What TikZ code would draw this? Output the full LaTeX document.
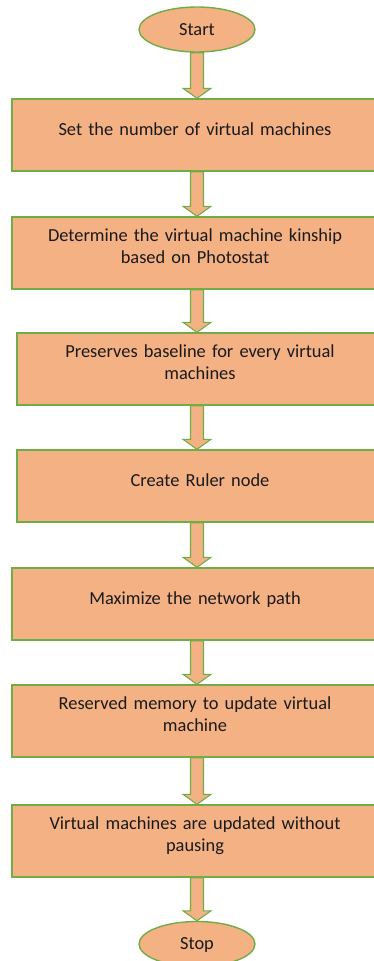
\documentclass[tikz,border=0pt]{standalone}
\usepackage{fontspec}
\setmainfont{Carlito}
\usetikzlibrary{shapes.geometric,calc}
\definecolor{boxfill}{HTML}{F4B183}
\definecolor{boxline}{HTML}{70AD47}
\definecolor{txt}{HTML}{1A1A1A}
\tikzset{
  x=1pt, y=1pt,
  stepbox/.style={rectangle, draw=boxline, fill=boxfill, line width=1.4pt,
    inner xsep=0pt, inner ysep=0pt, text width=366pt, align=center,
    font=\fontsize{18.4}{22.5}\selectfont, text=txt},
  onerow/.style={text height=36pt, text depth=36pt},
  tworow/.style={text height=24pt, text depth=48pt},
  terminal/.style={ellipse, draw=boxline, fill=boxfill, line width=1.4pt,
    minimum width=116pt, minimum height=45pt, inner sep=0pt,
    text height=13pt, text depth=2pt,
    font=\fontsize{18.4}{22.5}\selectfont, text=txt},
  flowarrow/.style={draw=boxline, fill=boxfill, line width=1.1pt, line join=miter}
}
% block arrow from the bottom of #1 to the top of #2, on the vertical axis
\newcommand\flowlink[2]{%
  \draw[flowarrow]
    ($(#1.south -| axis)+(-6.5,0)$) -- ($(#2.north -| axis)+(-6.5,10)$)
    -- ($(#2.north -| axis)+(-14,10)$) -- (#2.north -| axis)
    -- ($(#2.north -| axis)+(14,10)$) -- ($(#2.north -| axis)+(6.5,10)$)
    -- ($(#1.south -| axis)+(6.5,0)$) -- cycle;}
\begin{document}
\begin{tikzpicture}
  \useasboundingbox (0,0) rectangle (374,-961);
  \coordinate (axis) at (197,0);

  \node[terminal] (start) at (197,-29.5) {Start};
  \node[stepbox, onerow] (b1) at (195,-135) {Set the number of virtual machines};
  \node[stepbox, tworow] (b2) at (195,-253) {Determine the virtual machine kinship\\based on Photostat};
  \node[stepbox, tworow] (b3) at (200,-369) {Preserves baseline for every virtual\\machines};
  \node[stepbox, onerow] (b4) at (200,-486) {Create Ruler node};
  \node[stepbox, onerow] (b5) at (195,-604) {Maximize the network path};
  \node[stepbox, tworow] (b6) at (195,-721) {Reserved memory to update virtual\\machine};
  \node[stepbox, tworow] (b7) at (195,-841) {Virtual machines are updated without\\pausing};
  \node[terminal] (stop) at (197,-944) {Stop};

  \flowlink{start}{b1}
  \flowlink{b1}{b2}
  \flowlink{b2}{b3}
  \flowlink{b3}{b4}
  \flowlink{b4}{b5}
  \flowlink{b5}{b6}
  \flowlink{b6}{b7}
  \flowlink{b7}{stop}
\end{tikzpicture}
\end{document}
